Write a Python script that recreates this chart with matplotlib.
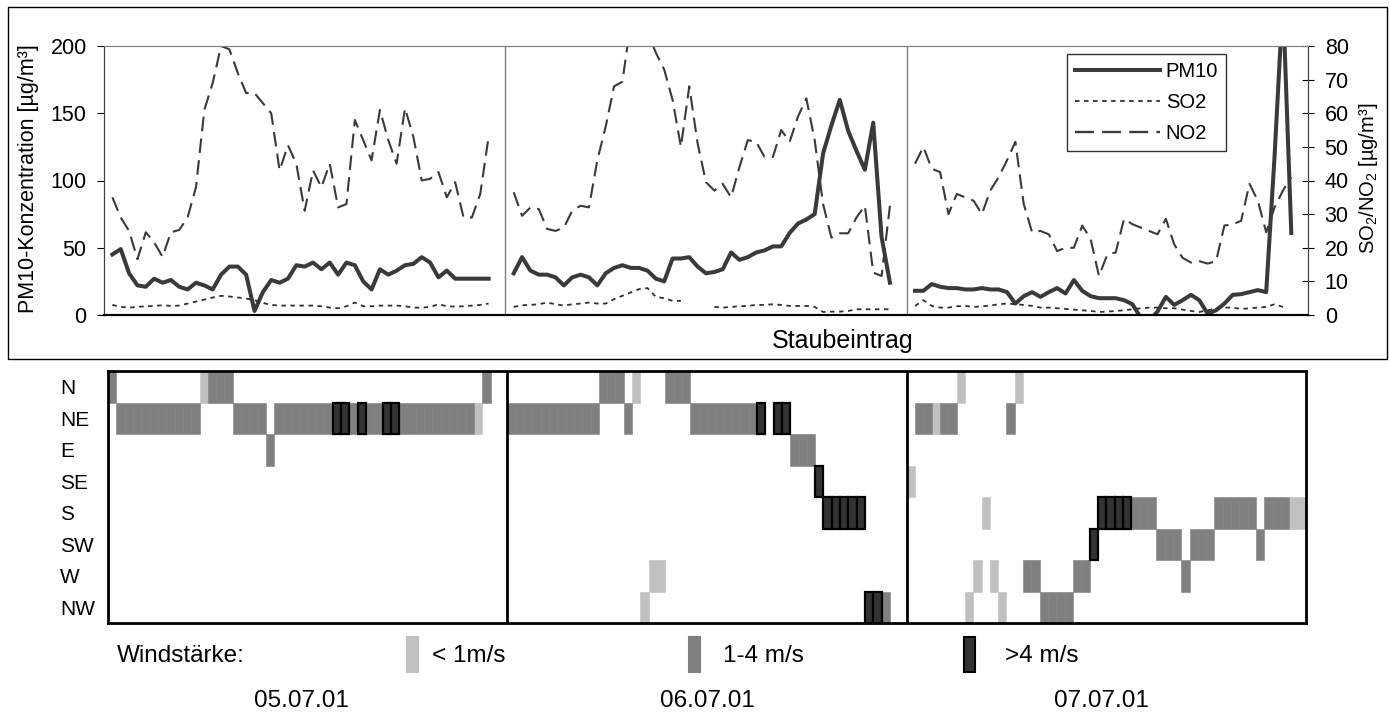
import numpy as np
import matplotlib.pyplot as plt
from matplotlib.patches import Rectangle

plt.rcParams['font.family'] = ['Liberation Sans', 'DejaVu Sans']
plt.rcParams['mathtext.fontset'] = 'custom'
plt.rcParams['mathtext.rm'] = 'Liberation Sans'
plt.rcParams['mathtext.it'] = 'Liberation Sans:italic'
plt.rcParams['mathtext.bf'] = 'Liberation Sans:bold'

days = ['05.07.01', '06.07.01', '07.07.01']
directions = ['N', 'NE', 'E', 'SE', 'S', 'SW', 'W', 'NW']

# PM10 [µg/m³] (linke Achse), 46 Werte pro Tag
pm10_d1 = [45, 49, 31, 22, 21, 27, 24, 26, 21, 19, 24, 22, 19, 30, 36, 36, 30, 3, 17, 26,
           24, 27, 37, 36, 39, 34, 39, 30, 39, 37, 25, 19, 34, 30, 33, 37, 38, 43, 39, 28,
           33, 27, 27, 27, 27, 27]
pm10_d2 = [31, 43, 33, 30, 30, 28, 22, 28, 30, 28, 22, 31, 35, 37, 35, 35, 33, 27, 25, 42,
           42, 43, 36, 31, 32, 34, 46.5, 41, 43, 46.5, 48, 51, 51, 61, 68, 71, 75, 120, 141, 160,
           137, 122, 108, 143, 58, 24]
pm10_d3 = [18, 18, 23, 21, 20, 20, 19, 19, 20, 19, 19, 17, 8.5, 14, 17, 13.5, 17, 20, 16, 26,
           18, 14, 12.5, 12.5, 12.5, 11, 8, -2, -4, 2.5, 13.5, 7.5, 11, 15, 11, 1, 3.5, 8.5, 15, 15.5,
           17, 18.5, 17, 118, 235, 61]

# SO2 [µg/m³] (rechte Achse)
so2_d1 = [3.0, 2.4, 2.2, 2.4, 2.6, 2.7, 2.9, 2.7, 2.8, 3.4, 4.0, 4.6, 5.2, 5.7, 5.5, 5.2, 4.9, 4.4, 3.6, 3.0,
          2.8, 2.8, 2.8, 2.8, 2.8, 2.6, 2.2, 2.0, 2.6, 3.7, 2.6, 2.6, 2.8, 2.8, 2.8, 2.6, 2.2, 2.2, 2.4, 3.2,
          2.6, 2.5, 2.6, 2.8, 3.0, 3.4]
so2_d2 = [2.4, 2.9, 3.0, 3.2, 3.7, 3.2, 2.8, 3.2, 3.4, 3.7, 3.4, 3.4, 4.7, 5.7, 6.7, 7.7, 8.0, 5.4, 5.0, 4.2,
          4.2, np.nan, np.nan, np.nan, 2.4, 2.2, 2.4, 2.6, 2.7, 3.0, 3.0, 3.2, 3.0, 2.7, 2.7, 2.7, 2.4, 0.9, 1.0, 1.0,
          1.2, 1.7, 1.7, 1.7, 1.7, 1.7]
so2_d3 = [2.7, 4.4, 2.7, 2.2, 2.2, 2.6, 2.7, 2.4, 2.6, 2.8, 3.2, 3.4, 3.2, 3.0, 2.7, 2.2, 2.2, 2.0, 1.8, 1.6,
          1.4, 1.2, 0.9, 1.0, 1.2, 1.4, 1.7, 2.0, 2.2, 2.2, 2.0, 2.0, 1.6, 1.2, 0.9, 1.4, 2.0, 2.2, 2.2, 1.8,
          2.0, 2.2, 2.4, 3.2, 2.4, np.nan]

# NO2 [µg/m³] (rechte Achse)
no2_d1 = [35, 29, 25, 16.6, 24.6, 21.6, 17.3, 24.6, 25.3, 29, 38, 61, 69, 80, 79, 72, 66, 66, 63, 60,
          43, 50.5, 45, 31, 43, 38, 45, 32, 33, 58, 52, 46, 61, 52, 45, 61.5, 53, 40, 40.5, 42.5,
          35, 39.5, 29, 29, 36, 53]
no2_d2 = [36.5, 29.5, 32, 31.5, 25.6, 25, 26, 31, 32.5, 32, 46, 56, 68, 69.4, 87, 86, 84, 78, 73, 64,
          50, 68, 51, 39.5, 37, 39, 35, 44, 52, 51.5, 47, 47, 55, 51.5, 59, 64.4, 52, 33, 23, 24.3,
          24.3, 29, 32.5, 12.6, 11.6, 32.5]
no2_d3 = [45, 50, 43.5, 42.5, 30, 36, 35, 34, 30, 37, 41, 46, 51.5, 33, 24.6, 25, 24, 19, 20, 20,
          26.6, 22.6, 11.6, 18, 18.6, 28.6, 27, 26, 25, 24, 28.6, 21, 17, 15.6, 16, 15.3, 16, 26.6, 27, 28,
          39, 34, 24.6, 32, 37, 41]

# Windrichtung und Windstaerke, 48 Intervalle pro Tag (0 = keine, 1 = <1, 2 = 1-4, 3 = >4 m/s)
wind_dir_d1 = ['N', 'NE', 'NE', 'NE', 'NE', 'NE', 'NE', 'NE', 'NE', 'NE', 'NE', 'N', 'N', 'N', 'N', 'NE',
               'NE', 'NE', 'NE', 'E', 'NE', 'NE', 'NE', 'NE', 'NE', 'NE', 'NE', 'NE', 'NE', 'NE', 'NE', 'NE',
               'NE', 'NE', 'NE', 'NE', 'NE', 'NE', 'NE', 'NE', 'NE', 'NE', 'NE', 'NE', 'NE', 'N', '', '']
wind_cls_d1 = [2, 2, 2, 2, 2, 2, 2, 2, 2, 2, 2, 1, 2, 2, 2, 2,
               2, 2, 2, 2, 2, 2, 2, 2, 2, 2, 2, 3, 3, 2, 3, 2,
               2, 3, 3, 2, 2, 2, 2, 2, 2, 2, 2, 2, 1, 2, 0, 0]
wind_dir_d2 = ['NE', 'NE', 'NE', 'NE', 'NE', 'NE', 'NE', 'NE', 'NE', 'NE', 'NE', 'N', 'N', 'N', 'NE', 'N',
               'NW', 'W', 'W', 'N', 'N', 'N', 'NE', 'NE', 'NE', 'NE', 'NE', 'NE', 'NE', 'NE', 'NE', '',
               'NE', 'NE', 'E', 'E', 'E', 'SE', 'S', 'S', 'S', 'S', 'S', 'NW', 'NW', 'NW', '', '']
wind_cls_d2 = [2, 2, 2, 2, 2, 2, 2, 2, 2, 2, 2, 2, 2, 2, 2, 1,
               1, 1, 1, 2, 2, 2, 2, 2, 2, 2, 2, 2, 2, 2, 3, 0,
               3, 3, 2, 2, 2, 3, 3, 3, 3, 3, 3, 3, 3, 2, 0, 0]
wind_dir_d3 = ['SE', 'NE', 'NE', 'NE', 'NE', 'NE', 'N', 'NW', 'W', 'S', 'W', 'NW', 'NE', 'N', 'W', 'W',
               'NW', 'NW', 'NW', 'NW', 'W', 'W', 'SW', 'S', 'S', 'S', 'S', 'S', 'S', 'S', 'SW', 'SW',
               'SW', 'W', 'SW', 'SW', 'SW', 'S', 'S', 'S', 'S', 'S', 'SW', 'S', 'S', 'S', 'S', 'S']
wind_cls_d3 = [1, 2, 2, 1, 2, 2, 1, 1, 1, 1, 1, 1, 2, 1, 2, 2,
               2, 2, 2, 2, 2, 2, 3, 3, 3, 3, 3, 2, 2, 2, 2, 2,
               2, 2, 2, 2, 2, 2, 2, 2, 2, 2, 2, 2, 2, 2, 1, 1]

wind_labels = ['< 1m/s', '1-4 m/s', '>4 m/s']
wind_colors = ['#c0c0c0', '#808080', '#333333']

pm10 = [pm10_d1, pm10_d2, pm10_d3]
so2 = [so2_d1, so2_d2, so2_d3]
no2 = [no2_d1, no2_d2, no2_d3]
wind_dir = [wind_dir_d1, wind_dir_d2, wind_dir_d3]
wind_cls = [wind_cls_d1, wind_cls_d2, wind_cls_d3]

W, H = 1390, 715
fig = plt.figure(figsize=(W / 100, H / 100), dpi=100)

# ---- oberes Diagramm: Konzentrationen ----
ax = fig.add_axes([104 / W, 1 - 315 / H, 1204 / W, 269 / H])
ax2 = ax.twinx()
ax.set_xlim(0, 144)
ax.set_ylim(0, 200)
ax2.set_ylim(0, 80)

for d in range(3):
    x = 48 * d + 1 + np.arange(len(pm10[d]))
    ax.plot(x, pm10[d], color='#3a3a3a', lw=2.9, solid_joinstyle='round', zorder=3)
    ax2.plot(x, so2[d], color='#303030', lw=1.3, dashes=(2.5, 2.5))
    ax2.plot(x, no2[d], color='#3a3a3a', lw=1.5, dashes=(7, 3.5))

ax.axvline(48, color='#808080', lw=1)
ax.axvline(96, color='#808080', lw=1)

ax.set_yticks([0, 50, 100, 150, 200])
ax2.set_yticks(range(0, 81, 10))
ax.set_xticks([])
ax.tick_params(axis='y', direction='out', length=5, pad=7.5, labelsize=15.5)
ax2.tick_params(axis='y', direction='inout', length=8, pad=8, labelsize=15.5)
for a in (ax, ax2):
    a.spines['top'].set_color('#808080')
    a.spines['left'].set_color('#404040')
    a.spines['right'].set_color('#404040')
    a.spines['bottom'].set_color('black')
    a.spines['bottom'].set_linewidth(1.5)
    a.patch.set_visible(False)

h1, = ax.plot([], [], color='#3a3a3a', lw=2.9, label='PM10')
h2, = ax.plot([], [], color='#303030', lw=1.3, dashes=(2.5, 2.5), label='SO2')
h3, = ax.plot([], [], color='#3a3a3a', lw=1.7, dashes=(8, 3.5), label='NO2')
leg = ax2.legend(handles=[h1, h2, h3], loc='upper left',
                 bbox_to_anchor=(1067 / W, 1 - 54 / H), bbox_transform=fig.transFigure,
                 fontsize=14.5, frameon=True, fancybox=False, edgecolor='black',
                 handlelength=4.2, handletextpad=0.3, labelspacing=0.6,
                 borderpad=0.4, borderaxespad=0)
leg.get_frame().set_linewidth(1)

fig.text(29 / W, 1 - 179 / H, 'PM10-Konzentration [µg/m³]', rotation=90,
         ha='center', va='center', fontsize=15.5)
fig.text(1368 / W, 1 - 178 / H, 'SO$_2$/NO$_2$ [µg/m³]', rotation=90,
         ha='center', va='center', fontsize=14.5)
fig.text(843 / W, 1 - 348 / H, 'Staubeintrag', ha='center', va='baseline', fontsize=18)

fig.add_artist(Rectangle((8 / W, 1 - 358.5 / H), 1378.5 / W, 351 / H, transform=fig.transFigure,
                         fill=False, edgecolor='black', lw=1))

# ---- unteres Diagramm: Windrichtung ----
axw = fig.add_axes([108 / W, 1 - 623 / H, 1198 / W, 252 / H])
axw.set_xlim(0, 144)
axw.set_ylim(8, 0)

for k in (1, 2, 3):
    xs, ys = [], []
    for d in range(3):
        for c, (dr, cl) in enumerate(zip(wind_dir[d], wind_cls[d])):
            if cl == k and dr:
                xs.append(48 * d + c)
                ys.append(directions.index(dr))
    if k == 3:
        axw.bar(xs, 1, bottom=ys, width=1, align='edge', color=wind_colors[k - 1],
                edgecolor='black', lw=1.6, zorder=3)
    else:
        axw.bar(xs, 1, bottom=ys, width=1, align='edge', color=wind_colors[k - 1],
                edgecolor=wind_colors[k - 1], lw=0.4, zorder=2)

axw.axvline(48, color='black', lw=2, zorder=4)
axw.axvline(96, color='black', lw=2, zorder=4)
for s in axw.spines.values():
    s.set_linewidth(2)
    s.set_zorder(5)
axw.set_xticks([])
axw.set_yticks(np.arange(8) + 0.5)
axw.set_yticklabels(directions, ha='left')
axw.tick_params(axis='y', length=0, pad=34.5, labelsize=15)

# Legende Windstaerke
fig.text(117 / W, 1 - 662 / H, 'Windstärke:', ha='left', va='baseline', fontsize=17.5)
for x0, tx, col, lab in zip([407, 689, 964], [432, 723, 1005], wind_colors, wind_labels):
    fig.add_artist(Rectangle((x0 / W, 1 - 672 / H), 11 / W, 35 / H, transform=fig.transFigure,
                             facecolor=col, edgecolor='black' if lab.startswith('>') else col,
                             lw=1.5))
    fig.text(tx / W, 1 - 662 / H, lab, ha='left', va='baseline', fontsize=17.5)

for xc, day in zip([301, 707, 1101], days):
    fig.text(xc / W, 1 - 707 / H, day, ha='center', va='baseline', fontsize=17.5)

fig.savefig('out.png', dpi=100)
